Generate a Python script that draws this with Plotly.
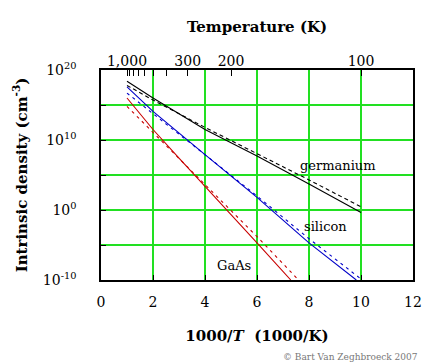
import plotly.graph_objects as go

# x = 1000/T (1000/K); values are log10 of intrinsic density (cm^-3)
ge_x = [1, 2, 4, 6, 8, 10]
ge_solid_log = [18.4, 16.0, 11.5, 7.7, 3.7, -0.35]
ge_dash_x = [1, 2, 4, 6, 8, 10]
ge_dash_log = [17.8, 15.7, 11.8, 8.1, 4.3, 0.45]

si_x = [1, 2, 4, 6, 8, 9.82]
si_solid_log = [17.6, 14.1, 7.9, 1.8, -4.7, -10]
si_dash_x = [1, 2, 4, 6, 8, 10.05]
si_dash_log = [16.7, 13.8, 7.9, 2.0, -4.1, -10]

gaas_x = [1, 2, 3, 4, 6, 7.3]
gaas_solid_log = [16.0, 11.5, 7.4, 3.4, -4.7, -10]
gaas_dash_x = [1, 2, 3, 5, 6, 7.6]
gaas_dash_log = [14.8, 11.1, 7.4, 0.0, -3.8, -10]

temp_ticks_K = [1000, 900, 800, 700, 600, 500, 400, 300, 200, 100]
temp_labels = ["1,000", "", "", "", "", "", "", "300", "200", "100"]

y_tick_exp = [-10, -5, 0, 5, 10, 15, 20]
y_tick_text = ["10<sup>-10</sup>", "", "10<sup>0</sup>", "", "10<sup>10</sup>", "", "10<sup>20</sup>"]

x_ticks = [0, 2, 4, 6, 8, 10, 12]

labels = [("germanium", 9.13, 6.3), ("silicon", 8.64, -2.3), ("GaAs", 5.1, -7.9)]

SERIF = "DejaVu Serif"
BLUE = "#0000c8"
RED = "#c80000"
GREEN = "#22e022"

def pw(vals):
    return [10.0 ** v for v in vals]

fig = go.Figure()
series = [
    (ge_x, ge_solid_log, "black", "solid"),
    (ge_dash_x, ge_dash_log, "black", "4px,3px"),
    (si_x, si_solid_log, BLUE, "solid"),
    (si_dash_x, si_dash_log, BLUE, "3px,4px"),
    (gaas_x, gaas_solid_log, RED, "solid"),
    (gaas_dash_x, gaas_dash_log, RED, "3px,4px"),
]
for xs, ys, col, dash in series:
    fig.add_trace(go.Scatter(x=xs, y=pw(ys), mode="lines",
                             line=dict(color=col, width=1.1, dash=dash),
                             showlegend=False, hoverinfo="skip", cliponaxis=True))

# hidden trace to anchor top temperature axis
fig.add_trace(go.Scatter(x=[1000.0 / t for t in temp_ticks_K], y=[None] * len(temp_ticks_K),
                         xaxis="x2", mode="lines", showlegend=False, hoverinfo="skip"))

for text, x, ylog in labels:
    fig.add_annotation(x=x, y=ylog, xref="x", yref="y", text=text, showarrow=False,
                       font=dict(family=SERIF, size=13, color="black"))

fig.add_annotation(x=1.0, y=0.0, xref="paper", yref="paper", text="© Bart Van Zeghbroeck 2007",
                   showarrow=False, xanchor="right", yanchor="middle",
                   font=dict(family=SERIF, size=9, color="#777777"), yshift=-77, xshift=7)

fig.update_layout(
    width=427, height=356,
    margin=dict(l=87, r=22, t=62, b=84),
    paper_bgcolor="white", plot_bgcolor="white",
    font=dict(family=SERIF, size=13, color="black"),
    xaxis=dict(range=[0, 12], tickvals=x_ticks, ticks="inside", ticklen=5, tickcolor="black",
               showgrid=True, gridcolor=GREEN, gridwidth=1.5,
               showline=True, linecolor="black", linewidth=1.5, mirror=True,
               zeroline=False, tickfont=dict(family=SERIF, size=14), ticklabelstandoff=8,
               title=dict(text="<b>1000/<i>T</i>  (1000/K)</b>", font=dict(family=SERIF, size=15), standoff=22)),
    xaxis2=dict(range=[0, 12], overlaying="x", side="top", anchor="y",
                tickvals=[1000.0 / t for t in temp_ticks_K], ticktext=temp_labels,
                ticks="inside", ticklen=6, tickcolor="black", showgrid=False, zeroline=False,
                showline=False, tickfont=dict(family=SERIF, size=14),
                title=dict(text="<b>Temperature (K)</b>", font=dict(family=SERIF, size=15), standoff=16)),
    yaxis=dict(type="log", range=[-10, 20], tickvals=[10.0 ** e for e in y_tick_exp], ticktext=y_tick_text,
               ticks="inside", ticklen=5, tickcolor="black",
               showgrid=True, gridcolor=GREEN, gridwidth=1.5,
               showline=True, linecolor="black", linewidth=1.5, mirror=True,
               zeroline=False, tickfont=dict(family=SERIF, size=14), ticklabelstandoff=20,
               title=dict(text="<b>Intrinsic density (cm<sup>-3</sup>)</b>", font=dict(family=SERIF, size=15), standoff=12)),
)

fig.write_html("out.html")
